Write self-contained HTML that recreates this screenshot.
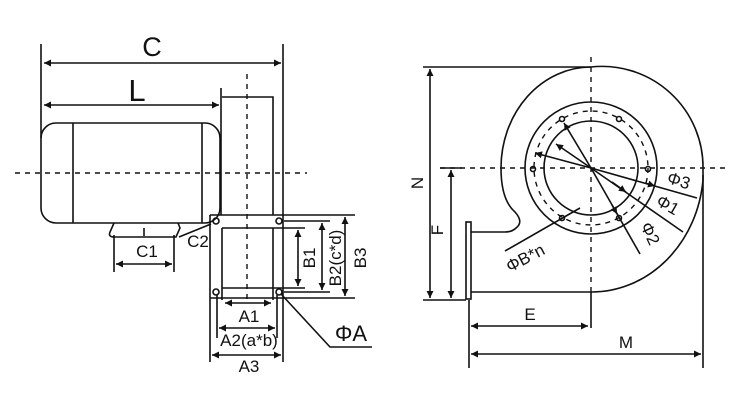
<!DOCTYPE html>
<html><head><meta charset="utf-8"><style>
html,body{margin:0;padding:0;background:#fff;}
svg{display:block;}
text{font-family:"Liberation Sans","DejaVu Sans",sans-serif;fill:#111;}
</style></head><body>
<svg width="750" height="400" viewBox="0 0 750 400" xmlns="http://www.w3.org/2000/svg">
<defs>
<marker id="a" viewBox="0 0 10 10" refX="10" refY="5" markerWidth="9" markerHeight="7" orient="auto-start-reverse" markerUnits="userSpaceOnUse"><path d="M0,0L10,5L0,10z" fill="#111"/></marker>
</defs>
<g stroke="#111" stroke-width="1.6" fill="none">
<line x1="41" y1="44" x2="41" y2="138"/>
<line x1="283" y1="44" x2="283" y2="362"/>
<line x1="44" y1="63" x2="281" y2="63" marker-start="url(#a)" marker-end="url(#a)"/>
<line x1="44" y1="105" x2="219" y2="105" marker-start="url(#a)" marker-end="url(#a)"/>
<rect x="41" y="123" width="179" height="100" rx="15"/>
<line x1="73" y1="123" x2="73" y2="223"/>
<line x1="202" y1="123" x2="202" y2="223"/>
<line x1="221" y1="88" x2="221" y2="215"/>
<polyline points="222,97 273,97 273,215"/>
<path d="M114,223 L110,232 Q108,237 114,237 L176,237 L180,228 L178,223"/>
<line x1="144" y1="228" x2="144" y2="236"/>
<line x1="114" y1="235" x2="114" y2="272"/>
<line x1="174" y1="235" x2="174" y2="272"/>
<line x1="116" y1="264" x2="172" y2="264" marker-start="url(#a)" marker-end="url(#a)"/>
<line x1="179" y1="237" x2="211" y2="224"/>
<line x1="210" y1="215" x2="210" y2="362"/>
<line x1="210" y1="215" x2="355" y2="215"/>
<line x1="210" y1="298" x2="355" y2="298"/>
<line x1="222" y1="228" x2="305" y2="228"/>
<line x1="222" y1="288" x2="305" y2="288"/>
<line x1="222" y1="228" x2="222" y2="300"/>
<line x1="273" y1="228" x2="273" y2="300"/>
<line x1="284" y1="221" x2="330" y2="221"/>
<line x1="284" y1="292" x2="330" y2="292"/>
<circle cx="216" cy="221" r="3"/><circle cx="279" cy="221" r="3"/>
<circle cx="216" cy="292" r="3"/><circle cx="279" cy="292" r="3"/>
<line x1="217" y1="295" x2="217" y2="338"/>
<line x1="277" y1="295" x2="277" y2="338"/>
<line x1="298" y1="230" x2="298" y2="286" marker-start="url(#a)" marker-end="url(#a)"/>
<line x1="322" y1="223" x2="322" y2="290" marker-start="url(#a)" marker-end="url(#a)"/>
<line x1="345" y1="217" x2="345" y2="296" marker-start="url(#a)" marker-end="url(#a)"/>
<line x1="225" y1="303" x2="271" y2="303" marker-start="url(#a)" marker-end="url(#a)"/>
<line x1="219" y1="328" x2="275" y2="328" marker-start="url(#a)" marker-end="url(#a)"/>
<line x1="212" y1="355" x2="281" y2="355" marker-start="url(#a)" marker-end="url(#a)"/>
<polyline points="281,294 330,347 372,347"/>
</g>
<g stroke="#111" stroke-width="1.4" stroke-dasharray="5,5" fill="none">
<line x1="247" y1="74" x2="247" y2="300"/>
<line x1="15" y1="173" x2="307" y2="173"/>
<line x1="591" y1="57" x2="591" y2="293"/>
<line x1="440" y1="168" x2="730" y2="168"/>
<circle cx="591" cy="168" r="57"/>
</g>
<g stroke="#111" stroke-width="1.6" fill="none">
<path d="M591,67 A101,101 0 0 1 703,170 L703,180 A112,124 0 0 1 591,292 L471,292"/>
<path d="M591,67 A90,101 0 0 0 501,168 Q501,200 515,212 Q524,222 516,228 Q512,232 505,232 L471,232"/>
<rect x="466" y="222" width="5" height="77"/>
<circle cx="591" cy="168" r="66"/>
<circle cx="591" cy="168" r="47"/>
<circle cx="562" cy="119" r="2.5"/><circle cx="619" cy="119" r="2.5"/>
<circle cx="533" cy="169" r="2.5"/><circle cx="648" cy="169" r="2.5"/>
<circle cx="562" cy="218" r="2.5"/><circle cx="619" cy="218" r="2.5"/>
<line x1="423" y1="67" x2="591" y2="67"/>
<line x1="423" y1="300" x2="466" y2="300"/>
<line x1="430" y1="69" x2="430" y2="298" marker-start="url(#a)" marker-end="url(#a)"/>
<line x1="440" y1="168" x2="462" y2="168"/>
<line x1="451" y1="170" x2="451" y2="298" marker-start="url(#a)" marker-end="url(#a)"/>
<line x1="591" y1="292" x2="591" y2="328"/>
<line x1="469" y1="300" x2="469" y2="368"/>
<line x1="703" y1="175" x2="703" y2="368"/>
<line x1="471" y1="326" x2="588" y2="326" marker-start="url(#a)" marker-end="url(#a)"/>
<line x1="471" y1="354" x2="701" y2="354" marker-start="url(#a)" marker-end="url(#a)"/>
<line x1="591" y1="168" x2="535" y2="153" marker-end="url(#a)"/>
<line x1="591" y1="168" x2="697" y2="198"/>
<line x1="645" y1="183" x2="655" y2="186" marker-end="url(#a)"/>
<line x1="591" y1="168" x2="556" y2="144" marker-end="url(#a)"/>
<line x1="591" y1="168" x2="683" y2="232"/>
<line x1="612" y1="182" x2="626" y2="192" marker-end="url(#a)"/>
<line x1="591" y1="168" x2="564" y2="123" marker-end="url(#a)"/>
<line x1="591" y1="168" x2="640" y2="254"/>
<line x1="612" y1="205" x2="617" y2="214" marker-end="url(#a)"/>
<line x1="505" y1="251" x2="580" y2="208"/>
</g>
<g font-size="17">
<text x="152" y="56" font-size="27" text-anchor="middle">C</text>
<text x="137" y="101" font-size="31" text-anchor="middle">L</text>
<text x="147" y="257" text-anchor="middle">C1</text>
<text x="198" y="247" text-anchor="middle">C2</text>
<text x="249" y="322" text-anchor="middle">A1</text>
<text x="249" y="346" text-anchor="middle">A2(a*b)</text>
<text x="249" y="372" text-anchor="middle">A3</text>
<text transform="translate(315,258) rotate(-90)" text-anchor="middle">B1</text>
<text transform="translate(341,258) rotate(-90)" text-anchor="middle">B2(c*d)</text>
<text transform="translate(366,258) rotate(-90)" text-anchor="middle">B3</text>
<text x="351" y="341" font-size="22" text-anchor="middle">ΦA</text>
<text transform="translate(423,183) rotate(-90)" text-anchor="middle">N</text>
<text transform="translate(443,230) rotate(-90)" text-anchor="middle">F</text>
<text x="530" y="320" text-anchor="middle">E</text>
<text x="626" y="348" text-anchor="middle">M</text>
<text transform="translate(677,186) rotate(18)" text-anchor="middle">Φ3</text>
<text transform="translate(665,210) rotate(30)" text-anchor="middle">Φ1</text>
<text transform="translate(645,236) rotate(65)" text-anchor="middle">Φ2</text>
<text transform="translate(528,263) rotate(-28)" text-anchor="middle">ΦB*n</text>
</g>
</svg>
</body></html>
